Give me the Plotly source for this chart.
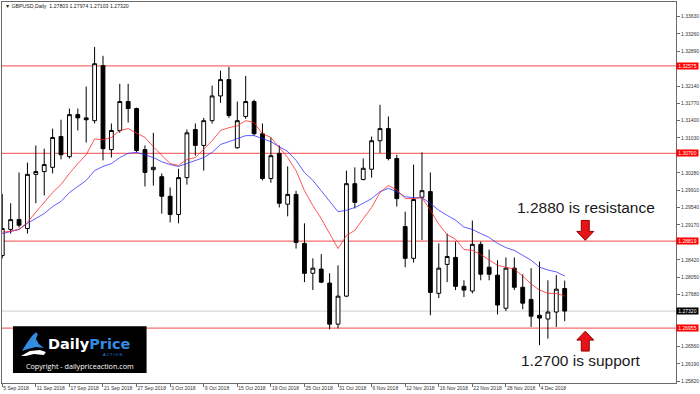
import plotly.graph_objects as go
import pandas as pd

# ---------------- data ----------------
dates = pd.bdate_range("2018-09-05", "2018-12-07")  # 68 daily bars (weekdays)

opens = [1.2851, 1.2907, 1.2928, 1.2909, 1.3025, 1.3031, 1.3040, 1.3106, 1.3063, 1.3153,
         1.3146, 1.3140, 1.3258, 1.3078, 1.3119, 1.3181, 1.3166, 1.3078, 1.3035, 1.3020,
         1.2978, 1.2939, 1.3018, 1.3121, 1.3087, 1.3140, 1.3193, 1.3228, 1.3082, 1.3149,
         1.3181, 1.3112, 1.3016, 1.3070, 1.2961, 1.2982, 1.2877, 1.2813, 1.2822, 1.2792,
         1.2704, 1.2764, 1.3005, 1.3014, 1.3036, 1.3097, 1.3123, 1.3059, 1.2913, 1.2845,
         1.2976, 1.2988, 1.2770, 1.2832, 1.2847, 1.2785, 1.2775, 1.2875, 1.2826, 1.2809,
         1.2738, 1.2824, 1.2783, 1.2757, 1.2723, 1.2715, 1.2730, 1.27803]
highs = [1.2983, 1.2963, 1.3029, 1.3050, 1.3087, 1.3080, 1.3123, 1.3142, 1.3166, 1.3166,
         1.3213, 1.3298, 1.3279, 1.3134, 1.3219, 1.3219, 1.3168, 1.3087, 1.3114, 1.3027,
         1.2997, 1.3037, 1.3121, 1.3134, 1.3146, 1.3215, 1.3247, 1.3255, 1.3181, 1.3236,
         1.3185, 1.3134, 1.3104, 1.3087, 1.3042, 1.2990, 1.2920, 1.2845, 1.2854, 1.2813,
         1.2830, 1.3033, 1.3040, 1.3059, 1.3106, 1.3174, 1.3149, 1.3067, 1.2945, 1.3046,
         1.3072, 1.3029, 1.2877, 1.2898, 1.2881, 1.2798, 1.2926, 1.2881, 1.2864, 1.2841,
         1.2847, 1.2847, 1.2811, 1.2824, 1.2838, 1.2798, 1.2809, 1.27974]
lows = [1.2845, 1.2898, 1.2911, 1.2898, 1.2963, 1.2980, 1.3027, 1.3057, 1.3059, 1.3119,
        1.3093, 1.3134, 1.3055, 1.3061, 1.3114, 1.3136, 1.3072, 1.2999, 1.3001, 1.2941,
        1.2922, 1.2920, 1.3003, 1.3065, 1.3033, 1.3134, 1.3178, 1.3146, 1.3080, 1.3144,
        1.3108, 1.3012, 1.3007, 1.2954, 1.2935, 1.2866, 1.2794, 1.2777, 1.2792, 1.2693,
        1.2695, 1.2762, 1.2952, 1.3012, 1.3018, 1.3071, 1.3055, 1.2956, 1.2826, 1.2836,
        1.2884, 1.2723, 1.2760, 1.2794, 1.2777, 1.2762, 1.2770, 1.2798, 1.2798, 1.2725,
        1.2732, 1.2777, 1.2736, 1.2698, 1.2659, 1.2673, 1.2698, 1.27103]
closes = [1.2909, 1.2928, 1.2916, 1.3025, 1.3031, 1.3046, 1.3104, 1.3067, 1.3153, 1.3146,
          1.3142, 1.3262, 1.3080, 1.3119, 1.3181, 1.3166, 1.3076, 1.3029, 1.3040, 1.2978,
          1.2939, 1.3018, 1.3114, 1.3087, 1.3140, 1.3193, 1.3228, 1.3151, 1.3140, 1.3181,
          1.3112, 1.3016, 1.3065, 1.2963, 1.2982, 1.2879, 1.2813, 1.2824, 1.2794, 1.2704,
          1.2764, 1.3005, 1.2965, 1.3038, 1.3097, 1.3123, 1.3059, 1.2973, 1.2845, 1.2971,
          1.2990, 1.2772, 1.2824, 1.2849, 1.2785, 1.2777, 1.2875, 1.2811, 1.2811, 1.2745,
          1.2824, 1.2783, 1.2749, 1.2721, 1.2717, 1.2730, 1.2779, 1.27320]

ma_fast = [1.2901, 1.2903, 1.2907, 1.2922, 1.2944, 1.2965, 1.2986, 1.3003, 1.3027, 1.3048,
           1.3067, 1.3101, 1.3099, 1.3104, 1.3119, 1.3123, 1.3114, 1.3104, 1.3084, 1.3065,
           1.3048, 1.3044, 1.3057, 1.3061, 1.3080, 1.3097, 1.3119, 1.3125, 1.3129, 1.3140,
           1.3136, 1.3112, 1.3104, 1.3082, 1.3061, 1.3033, 1.2990, 1.2958, 1.2930, 1.2898,
           1.2866, 1.2894, 1.2905, 1.2930, 1.2954, 1.2986, 1.3001, 1.2992, 1.2973, 1.2973,
           1.2975, 1.2948, 1.2918, 1.2896, 1.2886, 1.2864, 1.2862, 1.2853, 1.2841, 1.2830,
           1.2826, 1.2822, 1.2807, 1.2790, 1.2777, 1.2770, 1.2770, 1.2764]
ma_slow = [1.2898, 1.2903, 1.2907, 1.2920, 1.2931, 1.2941, 1.2956, 1.2967, 1.2986, 1.2999,
           1.3012, 1.3033, 1.3042, 1.3048, 1.3061, 1.3070, 1.3072, 1.3067, 1.3061, 1.3052,
           1.3046, 1.3042, 1.3048, 1.3055, 1.3061, 1.3072, 1.3089, 1.3095, 1.3101, 1.3108,
           1.3108, 1.3101, 1.3095, 1.3084, 1.3074, 1.3055, 1.3029, 1.3012, 1.2990, 1.2969,
           1.2945, 1.2948, 1.2954, 1.2963, 1.2973, 1.2988, 1.2995, 1.2988, 1.2977, 1.2975,
           1.2975, 1.2963, 1.2948, 1.2937, 1.2927, 1.2912, 1.2907, 1.2898, 1.2890, 1.2877,
           1.2868, 1.2862, 1.2852, 1.2841, 1.2826, 1.2820, 1.2816, 1.2807]

levels = [1.32575, 1.30700, 1.28819, 1.26955]
last_price = 1.27320
ytick_vals = [1.33630, 1.33260, 1.32890, 1.32140, 1.31770, 1.31400, 1.31030, 1.30280,
              1.29910, 1.29540, 1.29170, 1.28420, 1.28050, 1.27680, 1.26560, 1.26190, 1.25820]
xtick_labels = ["5 Sep 2018", "11 Sep 2018", "17 Sep 2018", "21 Sep 2018", "27 Sep 2018",
                "3 Oct 2018", "9 Oct 2018", "15 Oct 2018", "19 Oct 2018", "25 Oct 2018",
                "31 Oct 2018", "6 Nov 2018", "12 Nov 2018", "16 Nov 2018", "22 Nov 2018",
                "28 Nov 2018", "4 Dec 2018"]
title_text = "▼ GBPUSD,Daily  1.27803 1.27974 1.27103 1.27320"

# ---------------- layout helpers ----------------
W, H = 700, 394
ML, MR, MT, MB = 2, 22, 1, 11
PW, PH = W - ML - MR, H - MT - MB


def PX(px):
    return (px - ML) / PW


def PY(py):
    return (H - MB - py) / PH


x = list(range(len(dates)))
FONT = "Liberation Sans, Arial, sans-serif"

fig = go.Figure()
fig.add_trace(go.Candlestick(
    x=x, open=opens, high=highs, low=lows, close=closes,
    increasing=dict(line=dict(color="black", width=1), fillcolor="white"),
    decreasing=dict(line=dict(color="black", width=1), fillcolor="black"),
    whiskerwidth=0, showlegend=False, hoverinfo="skip"))
fig.add_trace(go.Scatter(x=x, y=ma_slow, mode="lines",
                         line=dict(color="rgba(40,40,255,0.75)", width=1), showlegend=False))
fig.add_trace(go.Scatter(x=x, y=ma_fast, mode="lines",
                         line=dict(color="rgba(255,30,30,0.75)", width=1), showlegend=False))

shapes = []
for lv in levels:
    shapes.append(dict(type="line", xref="paper", x0=0, x1=1, yref="y", y0=lv, y1=lv,
                       line=dict(color="rgb(245,110,110)", width=1.2), layer="below"))
shapes.append(dict(type="line", xref="paper", x0=0, x1=1, yref="y", y0=last_price, y1=last_price,
                   line=dict(color="rgb(205,205,205)", width=1), layer="below"))


def arrow(cx, tip, base, end, hw=8.5, sw=4):
    pts = [(cx, tip), (cx + hw, base), (cx + sw, base), (cx + sw, end),
           (cx - sw, end), (cx - sw, base), (cx - hw, base)]
    path = "M " + " L ".join(f"{PX(a):.5f},{PY(b):.5f}" for a, b in pts) + " Z"
    return dict(type="path", xref="paper", yref="paper", path=path,
                fillcolor="rgb(230,20,25)", line=dict(color="rgb(150,0,0)", width=1))


shapes.append(arrow(587, 240, 231, 220))
shapes.append(arrow(587, 331, 340, 351))

# logo box
shapes.append(dict(type="rect", xref="paper", yref="paper", x0=PX(13), x1=PX(147),
                   y0=PY(373), y1=PY(326), fillcolor="black", line=dict(width=0)))
sail = [(22, 351), (27, 343), (32, 336), (36, 332), (38, 334), (36, 339), (39, 344), (44, 348),
        (36, 347), (28, 349)]
shapes.append(dict(type="path", xref="paper", yref="paper",
                   path="M " + " L ".join(f"{PX(a):.5f},{PY(b):.5f}" for a, b in sail) + " Z",
                   fillcolor="rgb(50,140,225)", line=dict(width=0)))
swoosh = [(21, 356), (30, 351), (40, 350), (46, 352), (44, 355), (34, 354), (26, 356)]
shapes.append(dict(type="path", xref="paper", yref="paper",
                   path="M " + " L ".join(f"{PX(a):.5f},{PY(b):.5f}" for a, b in swoosh) + " Z",
                   fillcolor="white", line=dict(width=0)))

annotations = []
for lv in levels:
    annotations.append(dict(xref="paper", x=1, xanchor="left", yref="y", y=lv,
                            text=f"{lv:.5f}", showarrow=False, bgcolor="rgb(255,0,0)",
                            font=dict(family=FONT, size=5, color="white"),
                            borderpad=0.5, width=20, height=5, align="center"))
annotations.append(dict(xref="paper", x=1, xanchor="left", yref="y", y=last_price,
                        text=f"{last_price:.5f}", showarrow=False, bgcolor="black",
                        font=dict(family=FONT, size=5, color="white"),
                        borderpad=0.5, width=20, height=5, align="center"))
annotations.append(dict(xref="paper", yref="paper", x=PX(3), y=PY(5), xanchor="left",
                        yanchor="middle", text=title_text, showarrow=False,
                        font=dict(family=FONT, size=5.2, color="#222")))
annotations.append(dict(xref="paper", yref="paper", x=PX(588), y=PY(207), xanchor="center",
                        yanchor="middle", text="1.2880 is resistance", showarrow=False,
                        font=dict(family=FONT, size=15.5, color="#1a1a1a")))
annotations.append(dict(xref="paper", yref="paper", x=PX(583), y=PY(360), xanchor="center",
                        yanchor="middle", text="1.2700 is support", showarrow=False,
                        font=dict(family=FONT, size=15.5, color="#1a1a1a")))
annotations.append(dict(xref="paper", yref="paper", x=PX(46), y=PY(343.5), xanchor="left",
                        yanchor="middle", showarrow=False,
                        text="<b><span style='color:white'>Daily</span>"
                             "<span style='color:rgb(50,140,225)'>Price</span></b>",
                        font=dict(family="DejaVu Sans, sans-serif", size=14.5)))
annotations.append(dict(xref="paper", yref="paper", x=PX(113), y=PY(354.5), xanchor="center",
                        yanchor="middle", showarrow=False, text="A C T I O N",
                        font=dict(family=FONT, size=3.8, color="rgb(50,140,225)")))
annotations.append(dict(xref="paper", yref="paper", x=PX(80), y=PY(365.5), xanchor="center",
                        yanchor="middle", showarrow=False, text="Copyright - dailypriceaction.com",
                        font=dict(family="Open Sans, sans-serif", size=7.2, color="white")))

fig.update_layout(
    width=W, height=H, margin=dict(l=ML, r=MR, t=MT, b=MB),
    paper_bgcolor="white", plot_bgcolor="white",
    shapes=shapes, annotations=annotations,
    xaxis=dict(range=[-0.03, 80.26], rangeslider=dict(visible=False), showgrid=False,
               zeroline=False, showline=True, mirror=True, linecolor="#6a6a6a", linewidth=1,
               tickmode="array", tickvals=list(range(0, 68, 4)), ticktext=xtick_labels,
               ticks="outside", ticklen=3, tickcolor="#6a6a6a", tickangle=0,
               ticklabelposition="outside right",
               tickfont=dict(family=FONT, size=5, color="#333")),
    yaxis=dict(range=[1.25779, 1.33943], side="right", showgrid=False, zeroline=False,
               showline=True, mirror=True, linecolor="#6a6a6a", linewidth=1,
               tickmode="array", tickvals=ytick_vals,
               ticktext=[f"{v:.5f}" for v in ytick_vals],
               ticks="outside", ticklen=3, tickcolor="#6a6a6a",
               tickfont=dict(family=FONT, size=5, color="#333")),
    boxgap=0.35,
)

fig.write_html("out.html")
